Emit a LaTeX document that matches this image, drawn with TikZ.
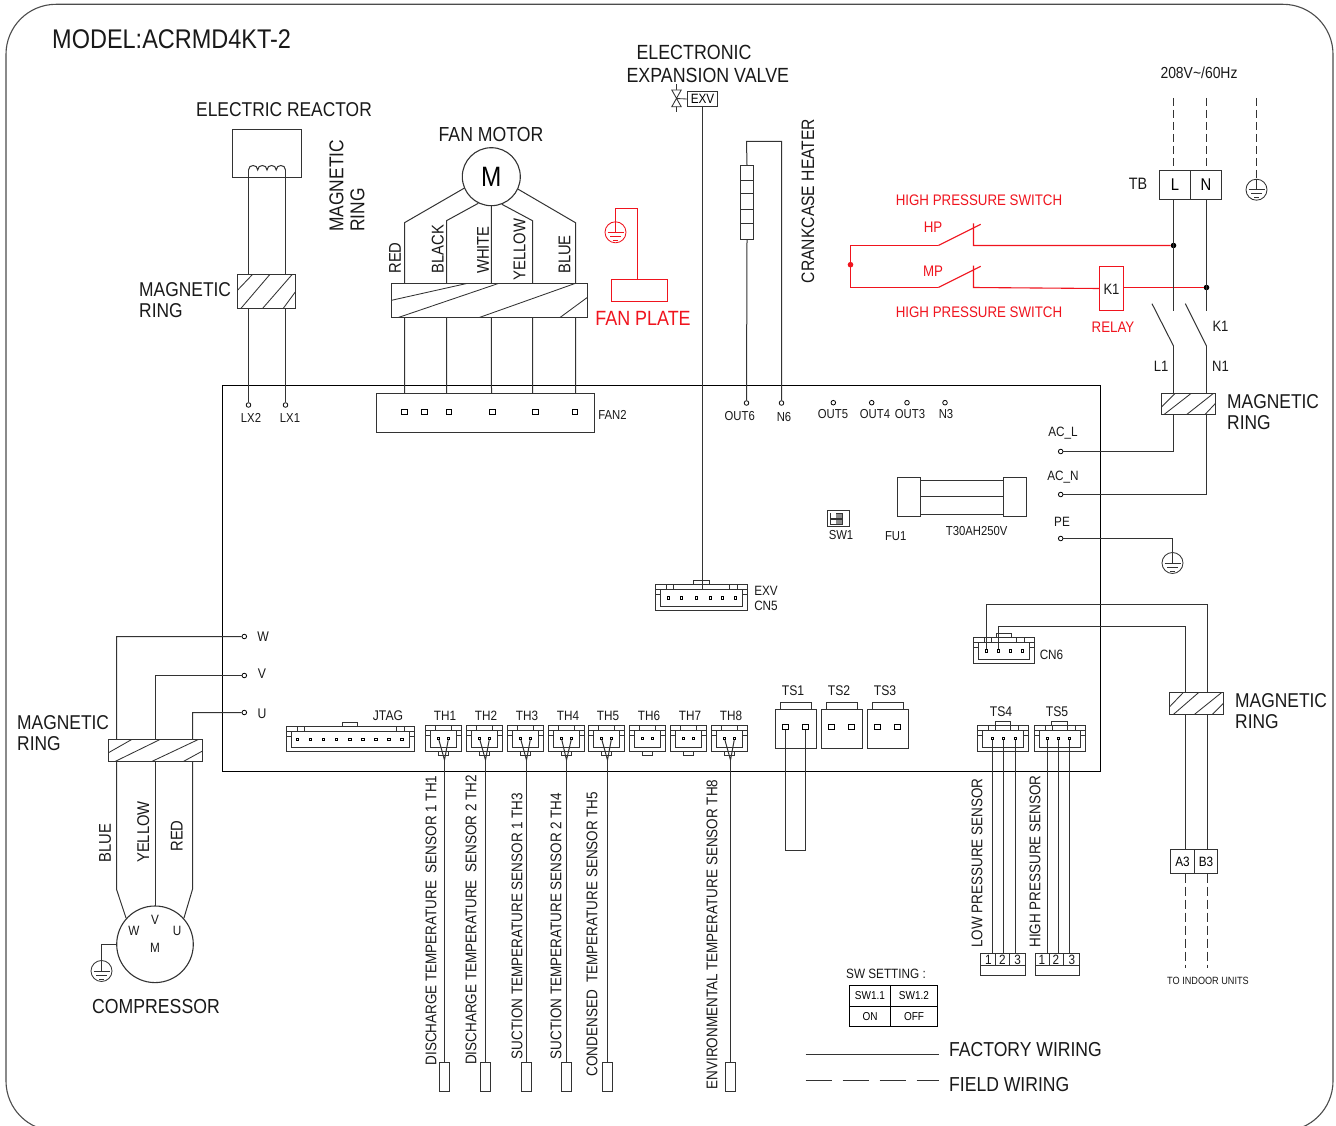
\documentclass[tikz,border=0pt]{standalone}
\usepackage{fontspec}
\setmainfont{Liberation Sans}[FakeStretch=0.87]
\definecolor{wirec}{HTML}{333333}
\definecolor{redc}{HTML}{F0141E}
\tikzset{
  lab/.style={font=\fontsize{#1}{#1}\selectfont,inner sep=0pt,text=black!90},
  mag/.style={font=\fontsize{20}{21}\selectfont,inner sep=0pt,align=left,text=black!90},
  wire/.style={draw=wirec,line width=1pt},
  redw/.style={draw=redc,line width=1.1pt},
  bx/.style={draw=wirec,line width=1pt,fill=white,inner sep=0pt,rectangle},
  thin1/.style={draw=wirec,line width=.85pt},
  term/.style={circle,draw=black,fill=white,line width=.8pt,inner sep=0pt,minimum size=4.6pt},
  pinsq/.style={rectangle,draw=black,fill=white,line width=.6pt,inner sep=0pt,minimum size=2.4pt},
  pinbig/.style={rectangle,draw=black,fill=white,line width=.8pt,inner sep=0pt,minimum size=5.4pt},
  dotk/.style={circle,fill=black,inner sep=0pt,minimum size=5.6pt},
  dotr/.style={circle,fill=redc,inner sep=0pt,minimum size=5.6pt},
}
% box by corners: [options]{name}{x1}{y1}{x2}{y2}{text}
\newcommand{\BxN}[7][]{\node[bx,minimum width={((#5)-(#3))*1pt},minimum height={((#6)-(#4))*1pt},#1] (#2) at ({((#3)+(#5))/2},{((#4)+(#6))/2}) {#7};}
% ground symbol: name,x,y,colour
\newcommand{\Gnd}[4]{%
  \node[circle,draw=#4,line width=.85pt,inner sep=0pt,minimum size=21pt] (#1) at (#2,#3) {};
  \draw[draw=#4,line width=.85pt] (#1.north) -- (#2,#3) (#2-8,#3)--(#2+8,#3) (#2-5.5,#3+4)--(#2+5.5,#3+4) (#2-2.5,#3+8)--(#2+2.5,#3+8);}
% magnetic ring: name,x1,y1,x2,y2,segments
\newcommand{\Ring}[6]{%
  \BxN{#1}{#2}{#3}{#4}{#5}{}
  \foreach \a/\b/\c/\d in {#6} {\draw[thin1] (\a,\b)--(\c,\d);}}
% big housing, tab on top: name,x1,y1,x2,y2,tabx1,tabx2
\newcommand{\HsgB}[7]{%
  \BxN[line width=.85pt]{#1}{#2}{#3}{#4}{#5}{}
  \draw[thin1] (#6,#3) -- (#6,#3-4) -- (#7,#3-4) -- (#7,#3);
  \draw[thin1] (#2,#3+5) -- (#4,#3+5)
    (#2+5,#3+5) -- (#2+5,#5-4) -- (#4-5,#5-4) -- (#4-5,#3+5)
    (#2,#3+10) -- (#2+5,#3+10) (#4,#3+10) -- (#4-5,#3+10)
    (#2+11,#3) -- (#2+11,#3+5) (#2+18,#3) -- (#2+18,#3+5)
    (#4-18,#3) -- (#4-18,#3+5) (#4-10,#3) -- (#4-10,#3+5);}
% TH housing, tab below: name, centre x
\newcommand{\HsgT}[2]{%
  \BxN[line width=.85pt]{#1}{#2-18.2}{725.3}{#2+18.2}{751}{}
  \draw[thin1] (#2-5,751) -- (#2-5,755) -- (#2+5,755) -- (#2+5,751);
  \draw[thin1] (#2-18.2,730.5) -- (#2+18.2,730.5)
    (#2-13.2,730.5) -- (#2-13.2,747) -- (#2+13.2,747) -- (#2+13.2,730.5)
    (#2-18.2,735) -- (#2-13.2,735) (#2+18.2,735) -- (#2+13.2,735)
    (#2-8,725.3) -- (#2-8,730.5) (#2+8,725.3) -- (#2+8,730.5);}
\begin{document}
\begin{tikzpicture}[x=1pt,y=-1pt]
\useasboundingbox[fill=white] (0,0) rectangle (1336,1126);
% frame
\draw[draw=black!70,line width=1.1pt,rounded corners=50pt] (6,4.3) rectangle (1333,1131);
% board
\node[draw=black,line width=1pt,inner sep=0pt,minimum width=878pt,minimum height=386pt] (board) at (661.5,578.5) {};

\node[lab=27,anchor=west] (title) at (52,39) {MODEL:ACRMD4KT-2};

% --- reactor
\BxN{reactor}{232.5}{129.5}{301.5}{177.5}{}
\node[lab=20] (reactorlab) at (284,110) {ELECTRIC REACTOR};
\coordinate (coilL) at (248.5,170);
\coordinate (coilR) at (285.5,170);
\node[term] (lx2) at (248.5,405) {};
\node[term] (lx1) at (285.5,405) {};
\draw[wire] (coilL) -- (lx2);
\draw[wire] (coilR) -- (lx1);
\draw[wire] (coilL) .. controls (248.5,164) and (257.7,164) .. (257.7,170)
  .. controls (257.7,164) and (267,164) .. (267,170)
  .. controls (267,164) and (276.2,164) .. (276.2,170)
  .. controls (276.2,164) and (285.5,164) .. (coilR);
\node[lab=13] (lx2lab) at (251,418) {LX2};
\node[lab=13] (lx1lab) at (290,418) {LX1};
\Ring{ringA}{237.5}{274.5}{295.5}{308.5}{237.7/290/252.7/274.3,241/308.3/270/274.3,262.7/308.3/292.3/274.3,283.3/308.3/295.5/291.7}
\node[mag,anchor=west] (ringAlab) at (139,300.5) {MAGNETIC\\RING};
\node[mag,anchor=west,rotate=90] (ringTlab) at (347,232) {MAGNETIC\\RING};

% --- fan motor
\node[circle,draw=black!80,line width=1.1pt,inner sep=0pt,minimum size=58pt,font=\fontsize{28}{28}\selectfont] (motor) at (491.3,176.7) {M};
\node[lab=20.3] (motorlab) at (491,135) {FAN MOTOR};
\BxN{fanbox}{376.5}{393.5}{594.5}{432.5}{}
\foreach \i/\xx in {1/404.5,2/424.5,3/449,4/492.5,5/535.5,6/575} {\node[pinbig] (fp\i) at (\xx,412) {};}
\coordinate (fw1) at (404.5,393.5);
\coordinate (fw2) at (446.5,393.5);
\coordinate (fw3) at (491.5,393.5);
\coordinate (fw4) at (532.5,393.5);
\coordinate (fw5) at (575.5,393.5);
\coordinate (fk1) at (404.5,222.7);
\coordinate (fk2) at (446.5,220.7);
\coordinate (fk4) at (532.5,220.7);
\coordinate (fk5) at (575.5,222.7);
\draw[wire] (fw1) -- (fk1) -- (motor.203);
\draw[wire] (fw2) -- (fk2) -- (motor.244);
\draw[wire] (fw3) -- (motor.270);
\draw[wire] (fw4) -- (fk4) -- (motor.291);
\draw[wire] (fw5) -- (fk5) -- (motor.335);
\Ring{ringF}{391.5}{283.5}{587.5}{317.5}{391.5/300.3/466.7/283.5,398.3/317.5/498.3/283.5,479.3/317.5/575/283.5,560/317.5/587.5/297.3}
\node[lab=17,rotate=90] (c1) at (395,258) {RED};
\node[lab=17,rotate=90] (c2) at (437.7,249) {BLACK};
\node[lab=17,rotate=90] (c3) at (483,250) {WHITE};
\node[lab=17,rotate=90] (c4) at (519.5,249.5) {YELLOW};
\node[lab=17,rotate=90] (c5) at (564.5,254.5) {BLUE};
\node[lab=13] (fan2lab) at (612.5,415) {FAN2};

% --- fan plate
\Gnd{gndF}{615.5}{232.3}{redc}
\BxN[draw=redc,line width=1.8pt,fill=none]{plate}{611.5}{279.5}{667.5}{301.5}{}
\coordinate (fpA) at (615.5,208.5);
\coordinate (fpB) at (637.5,208.5);
\draw[redw,line width=1.8pt] (gndF.north) -- (fpA) -- (fpB) -- (fpB |- plate.north);
\node[lab=20.6,text=redc] (platelab) at (643,318) {FAN PLATE};

% --- EXV
\node[lab=20.5] (exvt1) at (694,52.5) {ELECTRONIC};
\node[lab=20.5] (exvt2) at (707.8,75.5) {EXPANSION VALVE};
\BxN[font=\fontsize{13.5}{13.5}\selectfont]{exvbox}{687.5}{91.5}{717.5}{106.5}{EXV}
\coordinate (valve) at (676.5,98.5);
\draw[thin1] (676.5,84.3) -- (676.5,111.7);
\draw[thin1,fill=white] (671.8,90) -- (681.2,90) -- (671.8,106.7) -- (681.2,106.7) -- cycle;
\draw[thin1] (valve) -- (exvbox.west);
\HsgB{cn5}{655.5}{584.5}{747.5}{610.5}{693.5}{709.5}
\foreach \i/\xx in {1/668.5,2/681.5,3/696.5,4/710,5/722.5,6/735.5} {\node[pinsq] (e\i) at (\xx,597.7) {};}
\coordinate (exvw) at (702.5,590);
\draw[wire] (exvbox.south -| exvw) -- (exvw);
\node[lab=13.5] (exvl) at (766,590.5) {EXV};
\node[lab=13.5] (cn5l) at (766,605.5) {CN5};

% --- crankcase heater
\BxN{heater}{740.5}{165.5}{753.5}{239.5}{}
\draw[thin1] (740.5,180.5)--(753.5,180.5) (740.5,193.5)--(753.5,193.5) (740.5,209.5)--(753.5,209.5) (740.5,223.5)--(753.5,223.5);
\node[term] (out6) at (746.5,403) {};
\node[term] (n6) at (781.5,403) {};
\coordinate (htop) at (746.5,141.5);
\draw[wire] (heater.south) -- (out6);
\draw[wire] (heater.north) -- (htop) -| (n6);
\node[lab=18,rotate=90] (heatlab) at (808,201) {CRANKCASE HEATER};
\node[lab=13] (out6l) at (739.7,416) {OUT6};
\node[lab=13] (n6l) at (784,417) {N6};
\node[term] (out5) at (833.3,402.7) {};
\node[term] (out4) at (871.7,402.7) {};
\node[term] (out3) at (907,402.7) {};
\node[term] (n3) at (945,402.7) {};
\node[lab=13] (out5l) at (833,414) {OUT5};
\node[lab=13] (out4l) at (875,414) {OUT4};
\node[lab=13] (out3l) at (910,414) {OUT3};
\node[lab=13] (n3l) at (946,414) {N3};

% --- high pressure switches (red)
\coordinate (hpL) at (850.5,245.5);
\coordinate (mpL) at (850.5,287.5);
\coordinate (hpA) at (938.3,245.5);
\coordinate (hpB) at (980.7,224.3);
\coordinate (hpC) at (973.5,245.5);
\coordinate (hpT) at (973.5,223.3);
\coordinate (mpA) at (938.3,287.5);
\coordinate (mpB) at (980.7,266.3);
\coordinate (mpC) at (973.5,287.5);
\coordinate (mpT) at (973.5,265.7);
\node[dotk] (jL) at (1173.5,245.5) {};
\node[dotk] (jN) at (1206.5,287.5) {};
\BxN[draw=redc,line width=1.2pt]{relay}{1099.5}{266.5}{1123.5}{310.5}{}
\node[lab=15] (k1a) at (1111.5,289.5) {K1};
\draw[redw] (hpA) -- (hpL) -- (mpL) -- (mpA);
\draw[redw] (hpA) -- (hpB) (hpT) -- (hpC) -- (jL);
\draw[redw] (mpA) -- (mpB) (mpT) -- (mpC) -- (relay.west);
\draw[redw] (relay.east |- mpC) -- (jN);
\node[dotr] (jR) at (850.5,264.7) {};
\node[lab=15.3,text=redc] (hps1) at (979,200.5) {HIGH PRESSURE SWITCH};
\node[lab=15.3,text=redc] (hps2) at (979,312.5) {HIGH PRESSURE SWITCH};
\node[lab=15.3,text=redc] (hpl) at (933,227.5) {HP};
\node[lab=15.3,text=redc] (mpl) at (933,271) {MP};
\node[lab=15.3,text=redc] (rel) at (1113,327.5) {RELAY};

% --- mains
\BxN[font=\fontsize{17}{17}\selectfont]{tbL}{1159.5}{170.5}{1190.5}{199.5}{L}
\BxN[font=\fontsize{17}{17}\selectfont]{tbN}{1190.5}{170.5}{1221.5}{199.5}{N}
\node[lab=16] (mainv) at (1199,73) {208V\char`\~/60Hz};
\node[lab=16.5] (tbl) at (1138,184) {TB};
\coordinate (dL) at (1173.5,98);
\coordinate (dN) at (1206.5,98);
\coordinate (dE) at (1256.5,98);
\draw[wire,dash pattern=on 8pt off 4pt] (dL) -- (tbL.north -| dL);
\draw[wire,dash pattern=on 8pt off 4pt] (dN) -- (tbN.north -| dN);
\Gnd{gndE}{1256.5}{189.7}{wirec}
\draw[wire,dash pattern=on 8pt off 4pt] (dE) -- (gndE.north);
\coordinate (sL) at (1173.5,311.3);
\coordinate (sN) at (1206.5,311.3);
\coordinate (kLa) at (1152,303.7);
\coordinate (kLb) at (1173.5,346);
\coordinate (kNa) at (1185.3,303.7);
\coordinate (kNb) at (1206.5,346);
\coordinate (tL) at (1173.5,199.5);
\coordinate (tN) at (1206.5,199.5);
\draw[wire] (tL) -- (sL);
\draw[wire] (tN) -- (sN);
\draw[wire] (kLa) -- (kLb);
\draw[wire] (kNa) -- (kNb);
\node[term] (acl) at (1060.7,451.5) {};
\node[term] (acn) at (1060.7,494.5) {};
\node[term] (pe) at (1060.7,538.5) {};
\draw[wire] (kLb) |- (acl);
\draw[wire] (kNb) |- (acn);
\Gnd{gndP}{1172.5}{563}{wirec}
\draw[wire] (pe) -| (gndP.north);
\Ring{ringM}{1161.5}{393.5}{1215.5}{414.5}{1161.7/406.7/1175/393.5,1164/414.5/1191/393.5,1186.7/414.5/1213.3/393.5,1205/414.5/1215.5/403.3}
\node[mag,anchor=west] (ringMl) at (1227,412.5) {MAGNETIC\\RING};
\node[lab=15] (k1b) at (1220.5,326.5) {K1};
\node[lab=15] (l1l) at (1161,366.5) {L1};
\node[lab=15] (n1l) at (1220.5,366.5) {N1};
\node[lab=13.5] (acll) at (1063,433.5) {AC\_L};
\node[lab=13.5] (acnl) at (1063,477.5) {AC\_N};
\node[lab=13.5] (pel) at (1062,521.5) {PE};

% --- fuse, SW1
\draw[thin1] (920.5,480.5)--(1003.5,480.5) (920.5,496.5)--(1003.5,496.5) (920.5,514.5)--(1003.5,514.5);
\BxN{fuseL}{897.5}{477.5}{920.5}{516.5}{}
\BxN{fuseR}{1003.5}{477.5}{1026.5}{516.5}{}
\node[lab=13] (fuseV) at (976.7,531.5) {T30AH250V};
\node[lab=13] (fu1) at (895.7,535.7) {FU1};
\BxN[line width=.85pt]{sw1}{827.5}{510.5}{849.5}{526.5}{}
\draw[thin1,fill=black!45] (830.7,513) rectangle (842.3,518.3);
\draw[thin1,fill=black!45] (830.7,519.3) rectangle (842.3,524.3);
\fill[white] (830.7,513.4) rectangle (836.3,517.9);
\fill[white] (830.7,519.7) rectangle (836.3,523.9);
\node[lab=13] (sw1l) at (841,534.7) {SW1};

% --- CN6 and communication line
\HsgB{cn6}{973.5}{637.5}{1034.5}{663.5}{996.5}{1011.5}
\foreach \i/\xx in {1/986.5,2/998.5,3/1010.5,4/1022.5} {\node[pinsq] (c6p\i) at (\xx,650.7) {};}
\BxN[font=\fontsize{13.5}{13.5}\selectfont]{a3}{1170.5}{849.5}{1194.5}{873.5}{A3}
\BxN[font=\fontsize{13.5}{13.5}\selectfont]{b3}{1194.5}{849.5}{1217.5}{873.5}{B3}
\coordinate (cA) at (1185.5,626.5);
\coordinate (cB) at (1207.5,604.5);
\coordinate (cAe) at (1185.5,849.5);
\coordinate (cBe) at (1207.5,849.5);
\coordinate (cAt) at (1185.5,873.5);
\coordinate (cBt) at (1207.5,873.5);
\coordinate (cAd) at (1185.5,968);
\coordinate (cBd) at (1207.5,968);
\draw[wire] (c6p1.north) |- (cB) -- (cBe);
\draw[wire] (c6p2.north) |- (cA) -- (cAe);
\draw[wire,dash pattern=on 9pt off 4pt] (cAt) -- (cAd);
\draw[wire,dash pattern=on 9pt off 4pt] (cBt) -- (cBd);
\Ring{ringC}{1169.5}{692.5}{1223.5}{714.5}{1169.7/706.7/1183.3/692.5,1173.3/714.5/1198.7/692.5,1194.3/714.5/1221.7/692.5,1212.3/714.5/1223.5/703.3}
\node[mag,anchor=west] (ringCl) at (1235,711.5) {MAGNETIC\\RING};
\node[lab=13.5] (cn6l) at (1051.5,654.5) {CN6};
\node[lab=10.5] (indoor) at (1208,981) {TO INDOOR UNITS};

% --- JTAG
\HsgB{jtag}{286.5}{726.5}{414.5}{751.5}{342.5}{357.5}
\foreach \i in {0,...,8} {\node[pinsq] (jp\i) at (297.3+13.08*\i,739.3) {};}
\node[lab=14] (jtagl) at (388,715.5) {JTAG};

% --- TH connectors
\foreach \c/\nn in {443.5/1,484.5/2,525.5/3,566.5/4,606.5/5,647.5/6,688.5/7,729.5/8} {
  \HsgT{th\nn}{\c}
  \node[pinsq] (th\nn a) at (\c-5,738.5) {};
  \node[pinsq] (th\nn b) at (\c+5,738.5) {};
  \node[lab=13.5] (th\nn l) at (\c+1.5,715.5) {TH\nn};
}
\foreach \c/\nn in {444.5/1,485.5/2,526.5/3,566.5/4,607.5/5,730.5/8} {
  \coordinate (th\nn j) at (\c,760);
  \node[bx,minimum width=10pt,minimum height=29pt] (ts\nn) at (\c,1076.5) {};
  \draw[wire] (th\nn a) -- (th\nn j) (th\nn b) -- (th\nn j);
  \draw[wire] (th\nn j) -- (ts\nn.north);
}
\node[lab=15.5,rotate=90] (sl1) at (431,920.5) {DISCHARGE TEMPERATURE~~SENSOR 1 TH1};
\node[lab=15.5,rotate=90] (sl2) at (471,920) {DISCHARGE TEMPERATURE~~SENSOR 2 TH2};
\node[lab=15.5,rotate=90] (sl3) at (517,926) {SUCTION TEMPERATURE SENSOR 1 TH3};
\node[lab=15.5,rotate=90] (sl4) at (556,926) {SUCTION TEMPERATURE SENSOR 2 TH4};
\node[lab=15.5,rotate=90] (sl5) at (592,934) {CONDENSED~~TEMPERATURE SENSOR TH5};
\node[lab=15.5,rotate=90] (sl8) at (712,934.5) {ENVIRONMENTAL TEMPERATURE SENSOR TH8};

% --- TS1-3
\foreach \nn/\xa/\xb/\pa/\pb in {1/775.5/816.5/785.5/805.5,2/821.5/862.5/831.5/851.5,3/867.5/908.5/877.5/897.5} {
  \BxN{ts\nn box}{\xa}{709.5}{\xb}{748.5}{}
  \draw[thin1] (\xa+5,709.5) -- (\xa+5,702.5) -- (\xb-5,702.5) -- (\xb-5,709.5);
  \node[pinbig] (ts\nn a) at (\pa,727) {};
  \node[pinbig] (ts\nn b) at (\pb,727) {};
}
\node[lab=14] (ts1l) at (793,691) {TS1};
\node[lab=14] (ts2l) at (839,691) {TS2};
\node[lab=14] (ts3l) at (885,691) {TS3};
\coordinate (tsloopL) at (785.5,850.5);
\coordinate (tsloopR) at (805.5,850.5);
\draw[wire] (ts1a.south) -- (tsloopL) -- (tsloopR) -- (ts1b.south);

% --- TS4, TS5 and terminal blocks
\HsgB{ts4}{977.5}{725.5}{1028.5}{751.5}{995.5}{1010.5}
\HsgB{ts5}{1034.5}{725.5}{1085.5}{751.5}{1051.5}{1067.5}
\node[lab=14] (ts4l) at (1001,712) {TS4};
\node[lab=14] (ts5l) at (1057,712) {TS5};
\BxN{blA}{980.5}{953.5}{1025.5}{975.5}{}
\BxN{blB}{1035.5}{953.5}{1079.5}{975.5}{}
\draw[thin1] (980.5,965.5)--(1025.5,965.5) (995.5,953.5)--(995.5,965.5) (1009.5,953.5)--(1009.5,965.5);
\draw[thin1] (1035.5,965.5)--(1079.5,965.5) (1049.5,953.5)--(1049.5,965.5) (1063.5,953.5)--(1063.5,965.5);
\foreach \i/\xx/\dg in {1/992.5/988.3,2/1003.5/1002.3,3/1015.5/1017.7} {
  \node[pinsq] (t4p\i) at (\xx,738.3) {};
  \coordinate (t4e\i) at (\xx,953.5);
  \draw[wire] (t4p\i) -- (t4e\i);
  \node[lab=13.5] (t4d\i) at (\dg,959.5) {\i};
}
\foreach \i/\xx/\dg in {1/1047.5/1042,2/1058.5/1056,3/1069.5/1072} {
  \node[pinsq] (t5p\i) at (\xx,738.3) {};
  \coordinate (t5e\i) at (\xx,953.5);
  \draw[wire] (t5p\i) -- (t5e\i);
  \node[lab=13.5] (t5d\i) at (\dg,959.5) {\i};
}
\node[lab=15.5,rotate=90] (lowl) at (977,863) {LOW PRESSURE SENSOR};
\node[lab=15.5,rotate=90] (highl) at (1035,861.5) {HIGH PRESSURE SENSOR};

% --- compressor
\node[circle,draw=black!80,line width=1.1pt,inner sep=0pt,minimum size=76.6pt] (comp) at (155,944.3) {};
\node[term] (tw) at (244.3,636.5) {};
\node[term] (tv) at (244.3,675.5) {};
\node[term] (tu) at (244.3,712.5) {};
\coordinate (cw1) at (116.5,889.3);
\coordinate (cu1) at (192.5,889.3);
\coordinate (cv1) at (155.5,906);
\draw[wire] (tw) -| (cw1) -- (comp.138);
\draw[wire] (tv) -| (cv1);
\draw[wire] (tu) -| (cu1) -- (comp.42);
\Ring{ringB}{108.5}{739.5}{202.5}{761.5}{108.5/752.7/131.7/739.5,115/761.5/160/739.5,151.7/761.5/198.3/739.5,183.3/761.5/202.5/751}
\node[mag,anchor=west] (ringBl) at (17,733.5) {MAGNETIC\\RING};
\node[lab=14] (wl) at (263,637) {W};
\node[lab=14] (vl) at (262,673.5) {V};
\node[lab=14] (ul) at (262,714) {U};
\node[lab=17,rotate=90] (cc1) at (105,843) {BLUE};
\node[lab=17,rotate=90] (cc2) at (143.3,832) {YELLOW};
\node[lab=17,rotate=90] (cc3) at (176.7,836) {RED};
\node[lab=13.5] (cw) at (134,930.5) {W};
\node[lab=13.5] (cv) at (155,920) {V};
\node[lab=13.5] (cu) at (177,930.5) {U};
\node[lab=13.5] (cm) at (155,948) {M};
\node[lab=20.3] (complab) at (156,1007) {COMPRESSOR};
\Gnd{gndC}{101.5}{971}{wirec}
\draw[wire] (comp.west) -| (gndC.north);

% --- switch setting table
\node[lab=13.5] (swset) at (886,974) {SW SETTING :};
\BxN[draw=black,line width=1.1pt,font=\fontsize{11.5}{11.5}\selectfont]{s11}{849.5}{985.5}{890.5}{1006.5}{SW1.1}
\BxN[draw=black,line width=1.1pt,font=\fontsize{11.5}{11.5}\selectfont]{s12}{890.5}{985.5}{937.5}{1006.5}{SW1.2}
\BxN[draw=black,line width=1.1pt,font=\fontsize{11.5}{11.5}\selectfont]{s21}{849.5}{1006.5}{890.5}{1026.5}{ON}
\BxN[draw=black,line width=1.1pt,font=\fontsize{11.5}{11.5}\selectfont]{s22}{890.5}{1006.5}{937.5}{1026.5}{OFF}

% --- legend
\coordinate (la) at (805.7,1054.5);
\coordinate (lb) at (939,1054.5);
\coordinate (lc) at (805.7,1080.5);
\coordinate (ld) at (939,1080.5);
\draw[wire] (la) -- (lb);
\draw[wire,dash pattern=on 26pt off 11pt] (lc) -- (ld);
\node[lab=20.2,anchor=west] (factory) at (949,1050) {FACTORY WIRING};
\node[lab=20.2,anchor=west] (field) at (949,1085) {FIELD WIRING};
\end{tikzpicture}
\end{document}
